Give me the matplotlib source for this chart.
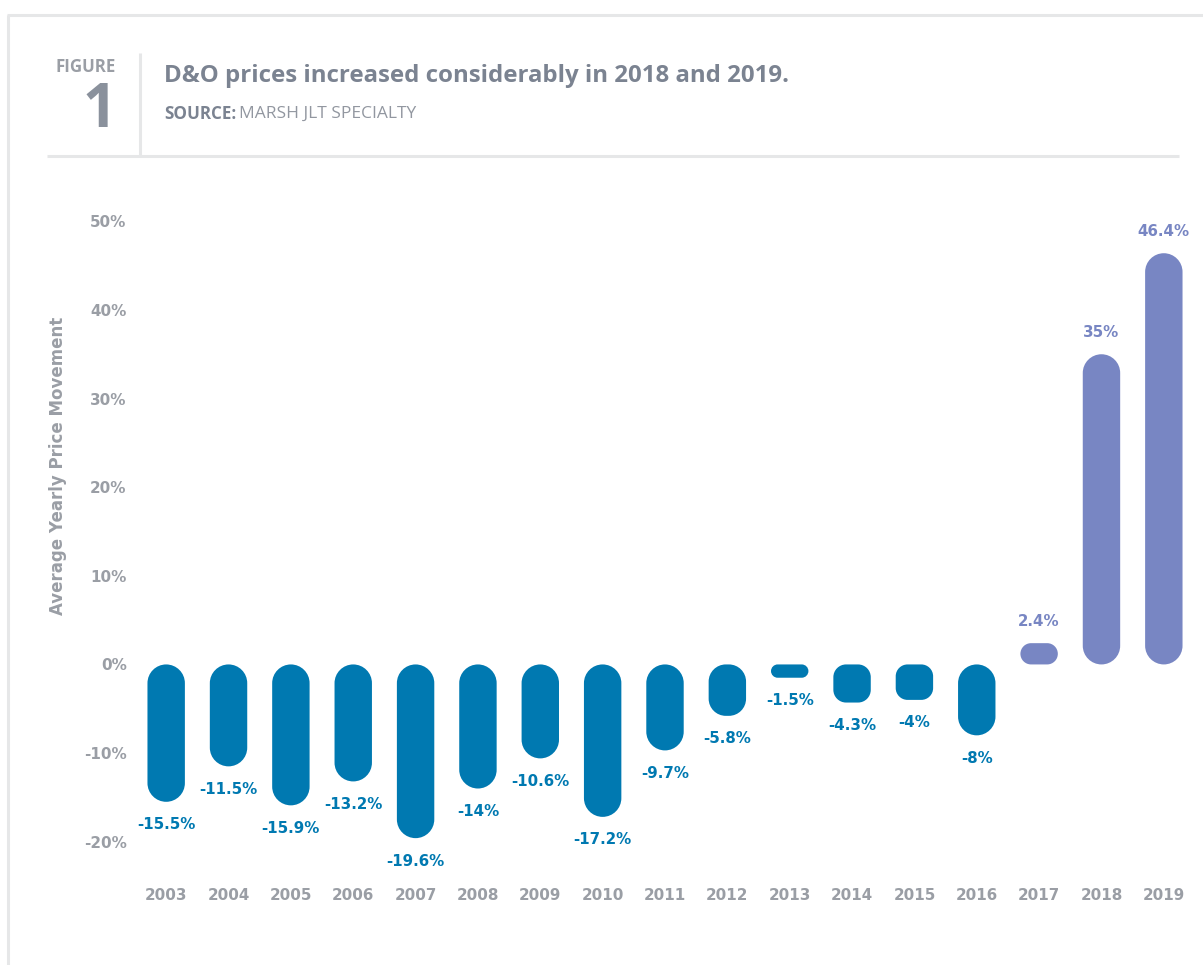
import matplotlib
matplotlib.use("Agg")
import matplotlib.pyplot as plt
from matplotlib.patches import PathPatch
from matplotlib.path import Path
from matplotlib.lines import Line2D

years = ["2003", "2004", "2005", "2006", "2007", "2008", "2009", "2010", "2011",
         "2012", "2013", "2014", "2015", "2016", "2017", "2018", "2019"]
changes = [-15.5, -11.5, -15.9, -13.2, -19.6, -14, -10.6, -17.2, -9.7,
           -5.8, -1.5, -4.3, -4, -8, 2.4, 35, 46.4]
y_ticks = [-20, -10, 0, 10, 20, 30, 40, 50]

BLUE = "#0079b1"
PURPLE = "#7886c3"
TICK_GREY = "#9a9ea5"
TITLE_GREY = "#7b8391"
LINE_GREY = "#e6e7e8"

plt.rcParams['font.family'] = ['DejaVu Sans']
HEAD_FONT = ['Open Sans', 'DejaVu Sans']

W, H = 1203, 965
fig = plt.figure(figsize=(W / 100, H / 100), dpi=100)
fig.patch.set_facecolor("white")


def fx(px):
    return px / W


def fy(py):
    return 1 - py / H


def fit_width(txt, target_px, vertical=False):
    # rescale the font so the rendered text spans target_px
    fig.canvas.draw()
    bb = txt.get_window_extent()
    span = bb.height if vertical else bb.width
    txt.set_fontsize(txt.get_fontsize() * target_px / span)


def rounded_bar(x0, y0, w, h, rx, ry):
    k = 0.5523
    x1, y1 = x0 + w, y0 + h
    verts = [(x0 + rx, y0), (x1 - rx, y0),
             (x1 - rx + k * rx, y0), (x1, y0 + ry - k * ry), (x1, y0 + ry),
             (x1, y1 - ry),
             (x1, y1 - ry + k * ry), (x1 - rx + k * rx, y1), (x1 - rx, y1),
             (x0 + rx, y1),
             (x0 + rx - k * rx, y1), (x0, y1 - ry + k * ry), (x0, y1 - ry),
             (x0, y0 + ry),
             (x0, y0 + ry - k * ry), (x0 + rx - k * rx, y0), (x0 + rx, y0),
             (x0 + rx, y0)]
    codes = ([Path.MOVETO, Path.LINETO] + [Path.CURVE4] * 3 + [Path.LINETO]
             + [Path.CURVE4] * 3 + [Path.LINETO] + [Path.CURVE4] * 3
             + [Path.LINETO] + [Path.CURVE4] * 3 + [Path.CLOSEPOLY])
    return Path(verts, codes)


# card border and header rules
for xs, ys in [((7, W), (15, 15)), ((8, 8), (15, H)),
               ((47, 1179), (156, 156)), ((140, 140), (53, 155))]:
    fig.add_artist(Line2D([fx(x) for x in xs], [fy(y) for y in ys],
                          color=LINE_GREY, lw=2.2, solid_capstyle="butt"))

fig_lbl = fig.text(fx(86), fy(67), "FIGURE", ha="center", va="center", fontsize=10.5,
                   fontweight="bold", color=TICK_GREY, family=HEAD_FONT)
fit_width(fig_lbl, 61)
fig.text(fx(100), fy(127), "1", ha="center", va="baseline", fontsize=43,
         fontweight="bold", color="#8a919c", family=HEAD_FONT)
title = fig.text(fx(164), fy(76), "D&O prices increased considerably in 2018 and 2019.",
                 ha="left", va="center", fontsize=17, fontweight="bold", color=TITLE_GREY,
                 family=HEAD_FONT)
fit_width(title, 626)
src = fig.text(fx(164), fy(114), "SOURCE:", ha="left", va="center", fontsize=11,
               fontweight="bold", color=TITLE_GREY, family=HEAD_FONT)
fit_width(src, 72)
fig.canvas.draw()
bb = src.get_window_extent()
src2 = fig.text(fx(bb.x1 + 3), fy(114), "MARSH JLT SPECIALTY", ha="left", va="center",
                fontsize=11, color="#9297a0", family=HEAD_FONT)
fit_width(src2, 176)

# plot area
left, right, top, bottom = 135, 1195, 177, 886
ax = fig.add_axes([fx(left), fy(bottom), (right - left) / W, (bottom - top) / H])
ax.set_xlim(-0.5, len(years) - 0.5)
ax.set_ylim(-25, 55)
for s in ax.spines.values():
    s.set_visible(False)
ax.set_facecolor("none")

ax.set_yticks(y_ticks)
ax.set_yticklabels([f"{t}%" for t in y_ticks])
ax.set_xticks(range(len(years)))
ax.set_xticklabels(years)
ax.tick_params(length=0, labelsize=10.9, labelcolor=TICK_GREY)
ax.tick_params(axis="y", pad=6)
ax.tick_params(axis="x", pad=1.5)
for lab in ax.get_xticklabels() + ax.get_yticklabels():
    lab.set_fontweight("bold")

ylab = fig.text(fx(58), fy(466), "Average Yearly Price Movement", rotation=90,
                ha="center", va="center", fontsize=12, fontweight="bold", color=TICK_GREY)
fit_width(ylab, 297, vertical=True)

# pixels per data unit, used to keep bar corners circular
o = ax.transData.transform((0, 0))
u = ax.transData.transform((1, 1))
px_x, px_y = u[0] - o[0], u[1] - o[1]

bar_w = 0.6
for i, v in enumerate(changes):
    color = PURPLE if v > 0 else BLUE
    h_px = abs(v) * px_y
    w_px = bar_w * px_x
    r_px = min(w_px / 2, h_px / 2 if h_px < 25 else h_px / 3)
    path = rounded_bar(i - bar_w / 2, min(0, v), bar_w, abs(v), r_px / px_x, r_px / px_y)
    ax.add_patch(PathPatch(path, fc=color, ec="none"))
    off = 15.5 if v > 0 else -16.5
    ax.annotate(f"{v:g}%", (i, v), xytext=(0, off), textcoords="offset points",
                ha="center", va="center", fontsize=10.8, fontweight="bold", color=color)

fig.savefig("out.png", dpi=100, facecolor="white")
